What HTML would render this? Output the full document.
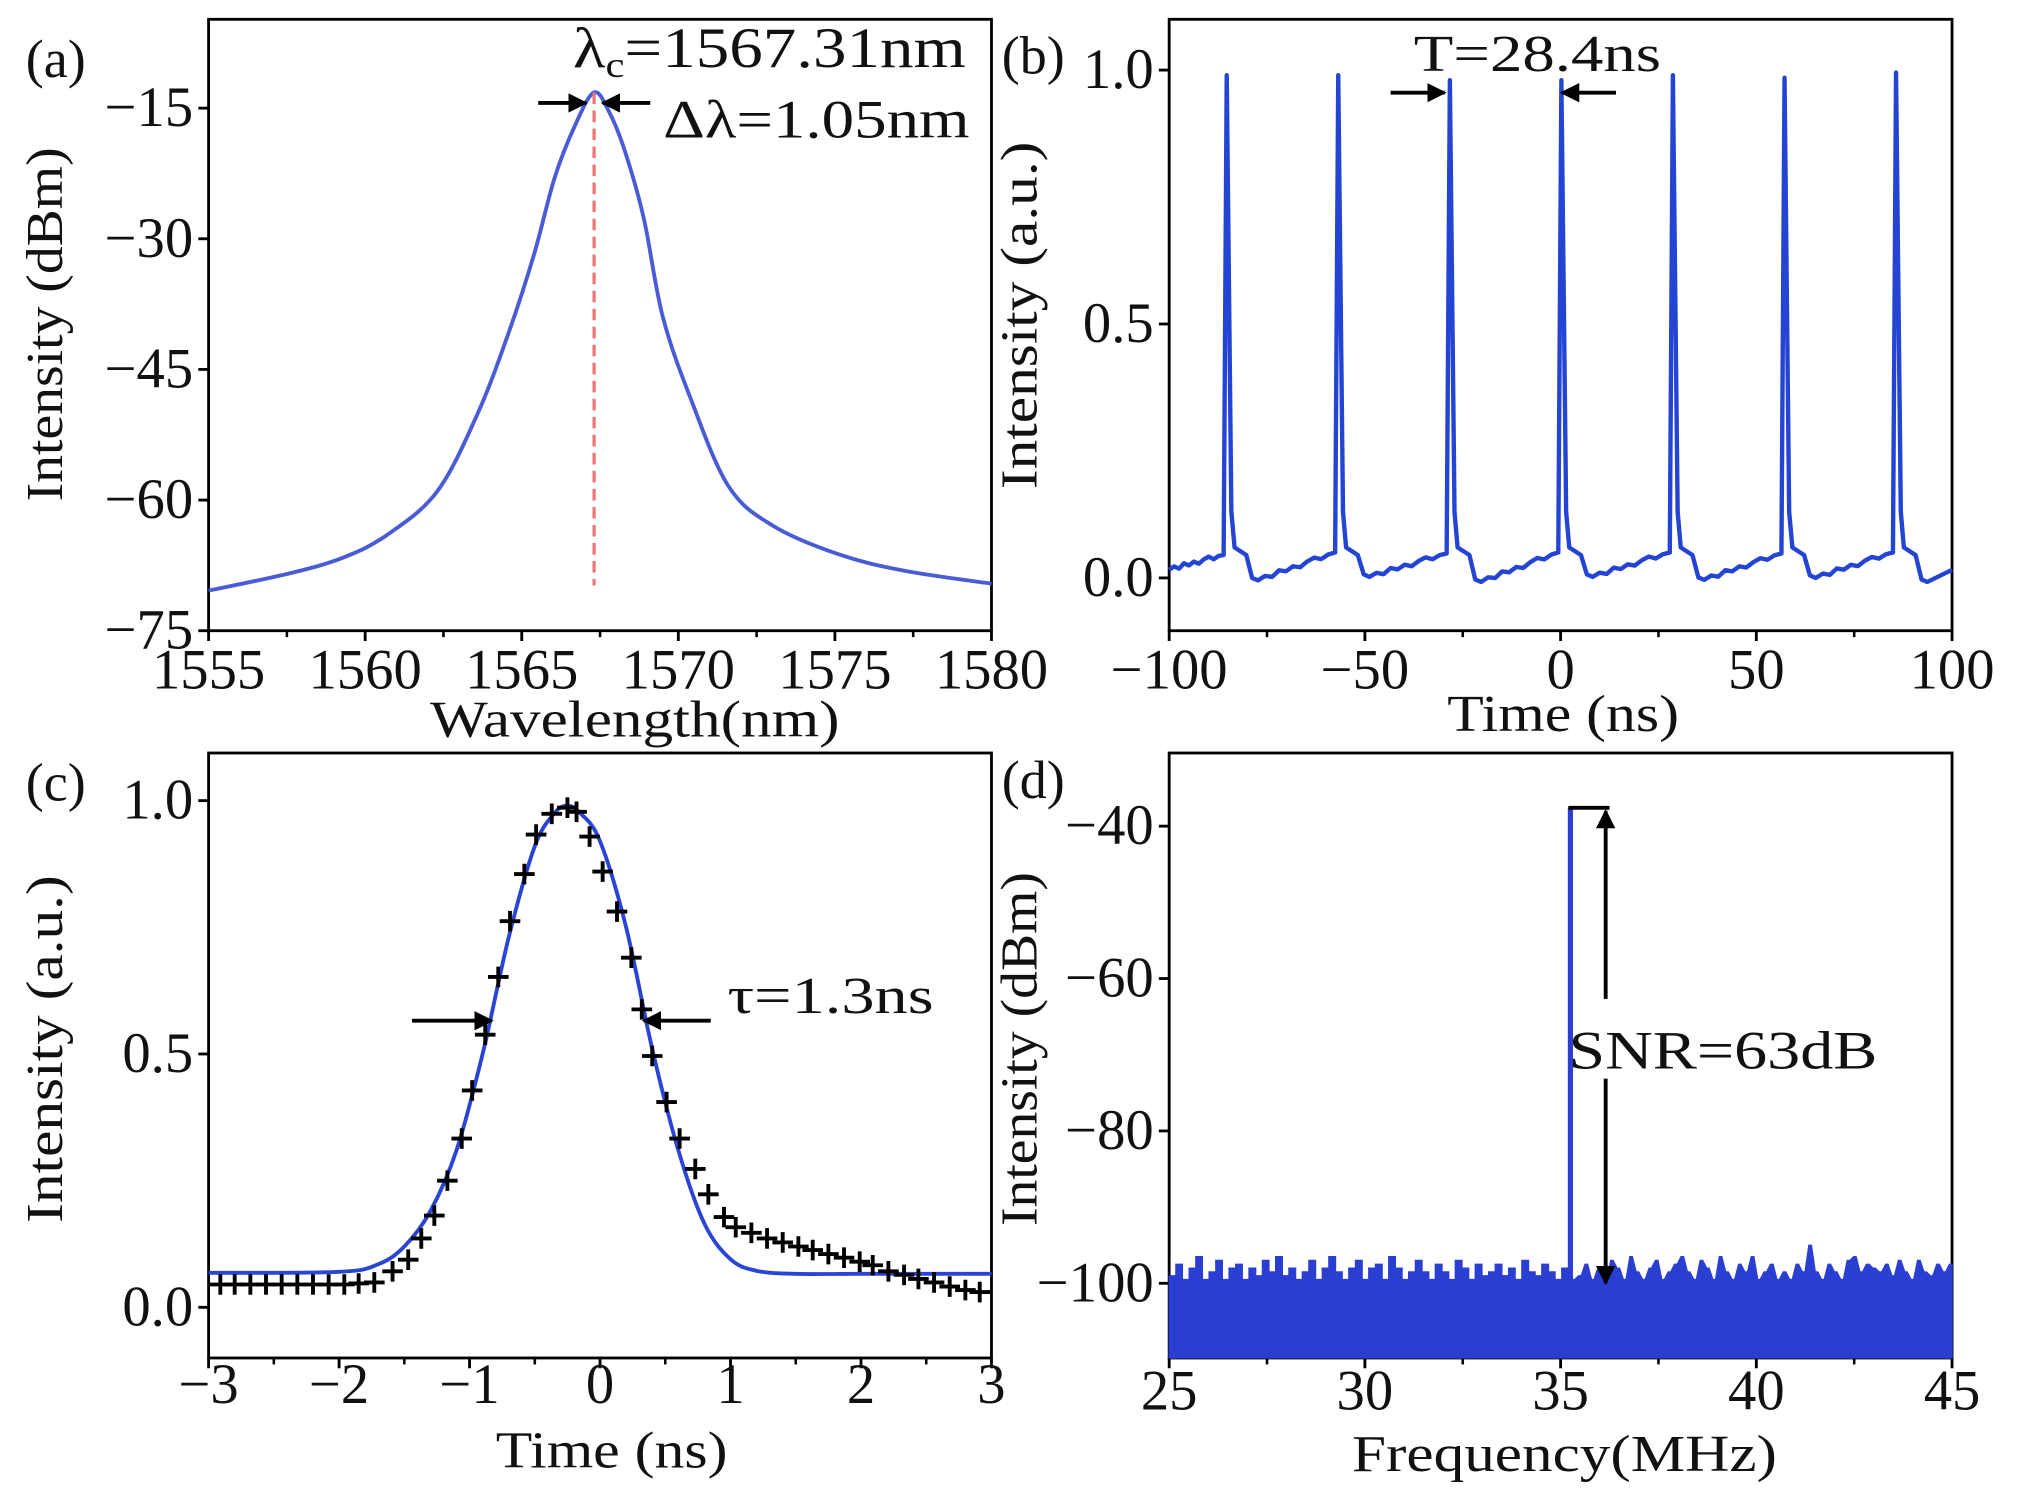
<!DOCTYPE html>
<html><head><meta charset="utf-8">
<style>
html,body{margin:0;padding:0;background:#fff;}
svg, svg text{font-family:"Liberation Serif","Times New Roman",serif;}
</style></head>
<body>
<svg id="fig" font-family="Liberation Serif, serif" width="2019" height="1506" viewBox="0 0 1568 1170" preserveAspectRatio="none" xmlns="http://www.w3.org/2000/svg">
<rect x="0" y="0" width="1568" height="1170" fill="#fff"/>
<defs>
<marker id="ah" viewBox="0 0 10 10" refX="9" refY="5" markerWidth="5" markerHeight="5" orient="auto"><path d="M0,0 L10,5 L0,10 z" fill="#000"/></marker>
</defs>
</svg>
<script>
// ---------- data ----------
const aWave = [1555,1557.6,1559.3,1560.7,1562.3,1563.6,1564.6,1565.4,1566.05,1566.7,1567.31,1567.8,1568.3,1568.9,1569.5,1570.4,1571.6,1573,1575.1,1577.2,1580];
const aDbm  = [-70.4,-68.4,-66.6,-64,-59,-50,-40.6,-31.7,-23,-17,-13.2,-15.5,-20,-27.7,-38.9,-48.4,-58.4,-62.9,-66.2,-68.1,-69.6];
const aCenter = 1567.31;
const aDashBottom = -69.8;

const bPulseTimes = [-85.3,-56.8,-28.3,0.2,28.7,57.2,85.7];
const bPulsePeaks = [0.99,0.99,0.98,0.98,0.99,0.985,0.995];
const bPreBase = [0.045,0.05,0.048,0.05,0.05,0.048,0.05];
const bPostMin = [-0.005,0.002,-0.008,0.002,-0.004,0.0,-0.008];
const bStart = 0.016, bEnd = 0.016;
const bRipple = [0.004,-0.003,0.005,-0.002,0.003,-0.004,0.002,0.005,-0.003,0.001];

const cMarkT = [-2.91,-2.80,-2.68,-2.56,-2.44,-2.32,-2.20,-2.08,-1.96,-1.85,-1.73,-1.59,-1.47,-1.37,-1.27,-1.17,-1.06,-0.98,-0.88,-0.78,-0.69,-0.58,-0.49,-0.37,-0.25,-0.18,-0.08,0.02,0.13,0.24,0.32,0.40,0.51,0.61,0.73,0.83,0.95,1.04,1.16,1.28,1.40,1.52,1.63,1.75,1.87,1.99,2.09,2.21,2.33,2.44,2.56,2.68,2.80,2.91];
const cMarkV = [0.045,0.045,0.045,0.045,0.045,0.045,0.045,0.045,0.045,0.047,0.049,0.071,0.094,0.136,0.181,0.25,0.333,0.428,0.538,0.652,0.762,0.855,0.933,0.974,0.986,0.978,0.929,0.86,0.781,0.69,0.588,0.496,0.405,0.333,0.273,0.223,0.178,0.158,0.147,0.136,0.128,0.12,0.113,0.105,0.098,0.09,0.083,0.071,0.064,0.056,0.049,0.041,0.034,0.03];
const cFitT = [-3,-2,-1.7,-1.5,-1.3,-1.1,-0.9,-0.7,-0.5,-0.35,-0.25,-0.15,0,0.2,0.4,0.6,0.8,1.0,1.2,1.5,2,3];
const cFitV = [0.068,0.07,0.085,0.12,0.19,0.31,0.5,0.73,0.91,0.975,0.99,0.975,0.92,0.75,0.51,0.31,0.165,0.095,0.072,0.066,0.066,0.066];

const dNoiseL = [-99,-97.5,-99.5,-98,-96.5,-99.5,-98.5,-97,-99.5,-98,-97.5,-99.5,-98,-99,-97,-98.5,-96.5,-99,-98,-99.5,-98.5,-97,-99.5,-98,-96.5,-98.5,-99.5,-98,-97,-99.5,-98,-97.5,-99.5,-96.5,-98,-99.5,-98.5,-97,-98.5,-99.5,-97.5,-98.5,-99.5,-97,-98,-99.5,-97.5,-99,-98.5,-97.5,-99,-98,-99.5,-97,-98.5,-99,-97.5,-98.5,-99.5,-98];
const dNoiseR = [-99.5,-99,-97.5,-99.5,-98,-99.5,-97,-98,-99.5,-96.5,-98.5,-99.5,-98,-97,-99.5,-98.5,-97.5,-96.5,-98.5,-99.5,-97,-98,-99.5,-96.5,-98.5,-99.5,-97.5,-98.5,-96.5,-99.5,-98.5,-97.5,-99.5,-98.5,-99.5,-97.5,-98.5,-95,-98.5,-99.5,-97.5,-98.5,-99.5,-97,-96.5,-98.5,-97.5,-98,-98.5,-97.5,-99,-97,-98.5,-99.5,-97,-98.5,-99,-97.5,-98.5,-97.5];
const dSpikeF = 35.2, dSpikeV = -37.6;

// ---------- helpers ----------
const NS="http://www.w3.org/2000/svg";
const svg=document.getElementById('fig');
const FF='Liberation Serif, Times New Roman, serif';
function el(tag,attrs,parent){const e=document.createElementNS(NS,tag);for(const k in attrs)e.setAttribute(k,attrs[k]);(parent||svg).appendChild(e);return e;}
function txt(s,attrs,parent){attrs['font-family']=FF;const e=el('text',attrs,parent);e.textContent=s;return e;}
function smoothPath(pts){let d='M'+pts[0][0]+','+pts[0][1];for(let i=0;i<pts.length-1;i++){const p0=pts[i-1]||pts[i],p1=pts[i],p2=pts[i+1],p3=pts[i+2]||p2;
 d+=' C'+(p1[0]+(p2[0]-p0[0])/6)+','+(p1[1]+(p2[1]-p0[1])/6)+' '+(p2[0]-(p3[0]-p1[0])/6)+','+(p2[1]-(p3[1]-p1[1])/6)+' '+p2[0]+','+p2[1];}return d;}

function makePanel(name,box,xd,yd){
 const g=el('g',{});
 
 
 const sx=v=>box.x0+(v-xd[0])/(xd[1]-xd[0])*(box.x1-box.x0);
 const sy=v=>box.y1-(v-yd[0])/(yd[1]-yd[0])*(box.y1-box.y0);
 return {g,sx,sy,box};
}
function frameAndAxes(P,xt,xlab,xminor,yt,ylab,xtitle,ytitle,ytx,yty,xtBase,xtitleBase,xtitleX,xtitleLen,ytitleLen){
 const {g,sx,sy,box}=P;
 const fr=el('rect',{x:box.x0,y:box.y0,width:box.x1-box.x0,height:box.y1-box.y0,fill:'none',stroke:'#000','stroke-width':2.2},g);
 
 xt.forEach((v,i)=>{el('line',{x1:sx(v),x2:sx(v),y1:box.y1,y2:box.y1+8,stroke:'#000','stroke-width':2.2},g);
  const t=txt(xlab[i],{x:sx(v),y:xtBase,'font-size':44,'text-anchor':'middle',fill:'#111'},g);
  });
 xminor.forEach(v=>el('line',{x1:sx(v),x2:sx(v),y1:box.y1,y2:box.y1+5,stroke:'#000','stroke-width':2},g));
 yt.forEach((v,i)=>{el('line',{x1:box.x0-8,x2:box.x0,y1:sy(v),y2:sy(v),stroke:'#000','stroke-width':2.2},g);
  const t=txt(ylab[i],{x:box.x0-12,y:sy(v)+14,'font-size':44,'text-anchor':'end',fill:'#111'},g);
  });
 const xt2=txt(xtitle,{x:xtitleX,y:xtitleBase,'font-size':40,'text-anchor':'middle',textLength:xtitleLen,lengthAdjust:'spacingAndGlyphs',fill:'#111'},g);
 
 const yt2=txt(ytitle,{x:0,y:0,'font-size':40,'text-anchor':'middle',textLength:ytitleLen,lengthAdjust:'spacingAndGlyphs',fill:'#111',transform:`translate(${ytx},${yty}) rotate(-90)`},g);
 
}
function arrow(x1,y1,x2,y2,name,parent){const l=el('line',{x1,y1,x2,y2,stroke:'#000','stroke-width':3,'marker-end':'url(#ah)'},parent);
 return l;}
function label(s,x,y,name,size,len,parent){const t=txt(s,{x,y,'font-size':size,fill:'#111'},parent);if(len){t.setAttribute('textLength',len);t.setAttribute('lengthAdjust','spacingAndGlyphs');}
 return t;}

// ---------- panel (a) ----------
const PA=makePanel('panel-a-spectrum',{x0:162,x1:770,y0:15,y1:490},[1555,1580],[-75,-4.8]);
frameAndAxes(PA,[1555,1560,1565,1570,1575,1580],['1555','1560','1565','1570','1575','1580'],[1557.5,1562.5,1567.5,1572.5,1577.5],
 [-15,-30,-45,-60,-75],['\u221215','\u221230','\u221245','\u221260','\u221275'],'Wavelength(nm)','Intensity (dBm)',48,252,535,572,493,318,275);
const aLine=el('path',{d:smoothPath(aWave.map((w,i)=>[PA.sx(w),PA.sy(aDbm[i])])),fill:'none',stroke:'#4a5bd6','stroke-width':3},PA.g);

const aDash=el('line',{x1:PA.sx(aCenter),x2:PA.sx(aCenter),y1:PA.sy(-13.2),y2:PA.sy(aDashBottom),stroke:'#f07474','stroke-width':2.5,'stroke-dasharray':'9,5'},PA.g);

label('(a)',20,60,'panel-label-a',42,null,PA.g);
const lam=txt('',{x:445,y:52,'font-size':44,fill:'#111',textLength:305,lengthAdjust:'spacingAndGlyphs'},PA.g);

lam.innerHTML='λ<tspan font-size="28" dy="8">c</tspan><tspan dy="-8">=1567.31nm</tspan>';
label('\u0394\u03bb=1.05nm',515,107,'bandwidth-annotation',42,238,PA.g);
arrow(418,80,455,80,'bandwidth-arrow-left',PA.g);
arrow(505,80,468,80,'bandwidth-arrow-right',PA.g);

// ---------- panel (b) ----------
const PB=makePanel('panel-b-pulse-train',{x0:908,x1:1516,y0:15,y1:490},[-100,100],[-0.104,1.1]);
frameAndAxes(PB,[-100,-50,0,50,100],['\u2212100','\u221250','0','50','100'],[-75,-25,25,75],
 [0,0.5,1.0],['0.0','0.5','1.0'],'Time (ns)','Intensity (a.u.)',805,245,535,568,1214,180,270);
(function(){
 const pts=[[-100,bStart]];
 bPulseTimes.forEach((tp,i)=>{
  // ripple along the ramp to this pulse
  const prevT=pts[pts.length-1][0], prevV=pts[pts.length-1][1];
  const endT=tp-0.8,endV=bPreBase[i];
  bRipple.forEach((r,k)=>{const f=(k+1)/(bRipple.length+1);pts.push([prevT+(endT-prevT)*f,prevV+(endV-prevV)*f+r]);});
  pts.push([endT,endV],[tp,bPulsePeaks[i]],[tp+1.2,0.13],[tp+2,0.06],[tp+5,0.045],[tp+6.5,bPostMin[i]+0.005],[tp+8,bPostMin[i]]);
 });
 pts.push([100,bEnd]);
 const d=pts.filter(p=>p[0]<=100).map((p,i)=>(i?'L':'M')+PB.sx(p[0]).toFixed(1)+','+PB.sy(p[1]).toFixed(1)).join(' ');
 const l=el('path',{d,fill:'none',stroke:'#2444d4','stroke-width':3.4,'stroke-linejoin':'round'},PB.g);
 
})();
label('(b)',778,57,'panel-label-b',42,null,PB.g);
label('T=28.4ns',1098,55,'period-annotation',40,192,PB.g);
arrow(1080,72,1122,72,'period-arrow-left',PB.g);
arrow(1255,72,1213,72,'period-arrow-right',PB.g);

// ---------- panel (c) ----------
const PC=makePanel('panel-c-single-pulse',{x0:162,x1:770,y0:585,y1:1055},[-3,3],[-0.1,1.094]);
frameAndAxes(PC,[-3,-2,-1,0,1,2,3],['\u22123','\u22122','\u22121','0','1','2','3'],[-2.5,-1.5,-0.5,0.5,1.5,2.5],
 [0,0.5,1.0],['0.0','0.5','1.0'],'Time (ns)','Intensity (a.u.)',48,815,1090,1140,475,180,270);
const cFit=el('path',{d:smoothPath(cFitT.map((t,i)=>[PC.sx(t),PC.sy(cFitV[i])])),fill:'none',stroke:'#2a45d6','stroke-width':3},PC.g);

cMarkT.forEach((t,i)=>{
 const x=PC.sx(t),y=PC.sy(cMarkV[i]);
 const m=el('path',{d:`M${x-8},${y} H${x+8} M${x},${y-8} V${y+8}`,stroke:'#000','stroke-width':3},PC.g);
 
 
});
label('(c)',20,622,'panel-label-c',42,null,PC.g);
label('\u03c4=1.3ns',565,787,'pulse-width-annotation',40,160,PC.g);
arrow(320,793,382,793,'pulse-width-arrow-left',PC.g);
arrow(552,793,500,793,'pulse-width-arrow-right',PC.g);

// ---------- panel (d) ----------
const PD=makePanel('panel-d-rf-spectrum',{x0:908,x1:1516,y0:585,y1:1055},[25,45],[-109.8,-30.4]);
frameAndAxes(PD,[25,30,35,40,45],['25','30','35','40','45'],[27.5,32.5,37.5,42.5],
 [-40,-60,-80,-100],['\u221240','\u221260','\u221280','\u2212100'],'Frequency(MHz)','Intensity (dBm)',805,815,1095,1143,1215,330,275);
(function(){
 const bottom=PD.sy(-109.8);
 let d='M'+PD.sx(25)+','+bottom;
 const stepL=(dSpikeF-25)/dNoiseL.length;
 dNoiseL.forEach((v,i)=>{const x0=PD.sx(25+i*stepL),x1=PD.sx(25+(i+1)*stepL);d+=` L${x0.toFixed(1)},${PD.sy(v).toFixed(1)} L${x1.toFixed(1)},${PD.sy(v).toFixed(1)}`;});
 d+=` L${PD.sx(dSpikeF).toFixed(1)},${PD.sy(dSpikeV).toFixed(1)} L${(PD.sx(dSpikeF)+3).toFixed(1)},${PD.sy(dSpikeV).toFixed(1)}`;
 const stepR=(45-dSpikeF)/dNoiseR.length;
 dNoiseR.forEach((v,i)=>{const x0=PD.sx(dSpikeF+i*stepR)+3,x1=PD.sx(dSpikeF+(i+1)*stepR);d+=` L${x0.toFixed(1)},${PD.sy(v).toFixed(1)} L${x1.toFixed(1)},${PD.sy(v).toFixed(1)}`;});
 d+=` L${PD.sx(45)},${bottom} Z`;
 const a=el('path',{d,fill:'#2a3fd2',stroke:'#2a3fd2','stroke-width':1},PD.g);
 
 const top=el('line',{x1:PD.sx(dSpikeF),x2:1250,y1:PD.sy(dSpikeV),y2:PD.sy(dSpikeV),stroke:'#000','stroke-width':3},PD.g);
 
})();
label('(d)',778,620,'panel-label-d',42,null,PD.g);
arrow(1247,776,1247,630,'snr-arrow-up',PD.g);
arrow(1247,838,1247,997,'snr-arrow-down',PD.g);
label('SNR=63dB',1218,830,'snr-annotation',42,240,PD.g);
</script>
</body></html>
